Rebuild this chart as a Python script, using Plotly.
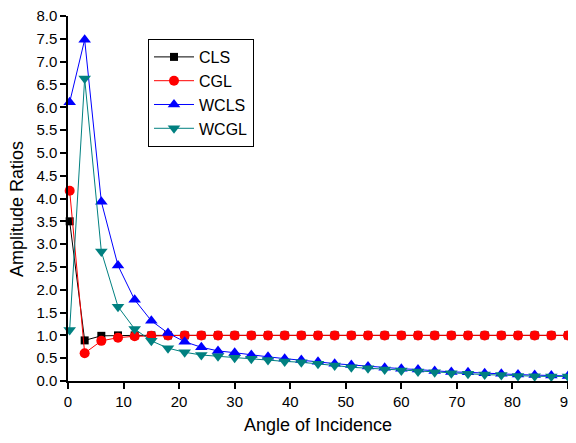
import plotly.graph_objects as go

angles = [0.3, 3, 6, 9, 12, 15, 18, 21, 24, 27, 30, 33, 36, 39, 42, 45, 48, 51,
          54, 57, 60, 63, 66, 69, 72, 75, 78, 81, 84, 87, 90]

cls = [3.50, 0.89, 0.99, 1.00, 1.00, 1.00, 1.00, 1.00, 1.00, 1.00, 1.00, 1.00,
       1.00, 1.00, 1.00, 1.00, 1.00, 1.00, 1.00, 1.00, 1.00, 1.00, 1.00, 1.00,
       1.00, 1.00, 1.00, 1.00, 1.00, 1.00, 1.00]
cgl = [4.17, 0.61, 0.88, 0.95, 0.98, 0.99, 1.00, 1.00, 1.00, 1.00, 1.00, 1.00,
       1.00, 1.00, 1.00, 1.00, 1.00, 1.00, 1.00, 1.00, 1.00, 1.00, 1.00, 1.00,
       1.00, 1.00, 1.00, 1.00, 1.00, 1.00, 1.00]
wcls = [6.11, 7.48, 3.93, 2.53, 1.78, 1.32, 1.05, 0.86, 0.74, 0.66, 0.62, 0.57,
        0.53, 0.49, 0.46, 0.42, 0.38, 0.35, 0.32, 0.29, 0.27, 0.25, 0.22, 0.20,
        0.19, 0.17, 0.16, 0.14, 0.13, 0.12, 0.11]
wcgl = [1.12, 6.63, 2.84, 1.63, 1.14, 0.88, 0.72, 0.63, 0.57, 0.54, 0.51, 0.49,
        0.46, 0.43, 0.41, 0.38, 0.34, 0.30, 0.28, 0.25, 0.23, 0.21, 0.19, 0.17,
        0.16, 0.14, 0.13, 0.11, 0.105, 0.10, 0.10]

series = [
    ("CLS", cls, "#000000", "square", 8),
    ("CGL", cgl, "#FF0000", "circle", 10),
    ("WCLS", wcls, "#0000FF", "triangle-up", 11),
    ("WCGL", wcgl, "#008080", "triangle-down", 11),
]

FONT = "Liberation Sans, Arial, sans-serif"

fig = go.Figure()
for name, vals, color, sym, sz in series:
    fig.add_trace(go.Scatter(
        x=angles, y=vals, name=name, mode="lines+markers",
        line=dict(color=color, width=1),
        marker=dict(symbol=sym, size=sz, color=color, line=dict(width=0)),
        cliponaxis=False,
    ))

fig.update_layout(
    width=568, height=427,
    margin=dict(l=60, r=8, t=8, b=54, autoexpand=False),
    paper_bgcolor="white", plot_bgcolor="white",
    font=dict(family=FONT, color="black", size=15),
    showlegend=True,
    legend=dict(
        x=0.16, y=0.937, xanchor="left", yanchor="top",
        bordercolor="black", borderwidth=1, bgcolor="white",
        font=dict(family=FONT, size=16, color="black"),
        tracegroupgap=0, itemwidth=40,
    ),
    xaxis=dict(
        range=[0, 90], dtick=10, tick0=0,
        showline=True, linecolor="black", linewidth=1.5,
        ticks="outside", ticklen=6, tickwidth=1.5, tickcolor="black",
        showgrid=False, zeroline=False, ticklabeloverflow="allow",
        tickfont=dict(family=FONT, size=15),
        title=dict(text="Angle of Incidence", font=dict(family=FONT, size=18), standoff=10),
    ),
    yaxis=dict(
        range=[0, 8], dtick=0.5, tick0=0, tickformat=".1f",
        showline=True, linecolor="black", linewidth=1.5,
        ticks="outside", ticklen=6, tickwidth=1.5, tickcolor="black",
        showgrid=False, zeroline=False, ticklabeloverflow="allow",
        tickfont=dict(family=FONT, size=15),
    ),
    annotations=[dict(
        text="Amplitude Ratios", textangle=-90,
        x=-0.102, y=0.471, xref="paper", yref="paper",
        xanchor="center", yanchor="middle", showarrow=False,
        font=dict(family=FONT, size=18, color="black"),
    )],
)

fig.write_html("out.html")
